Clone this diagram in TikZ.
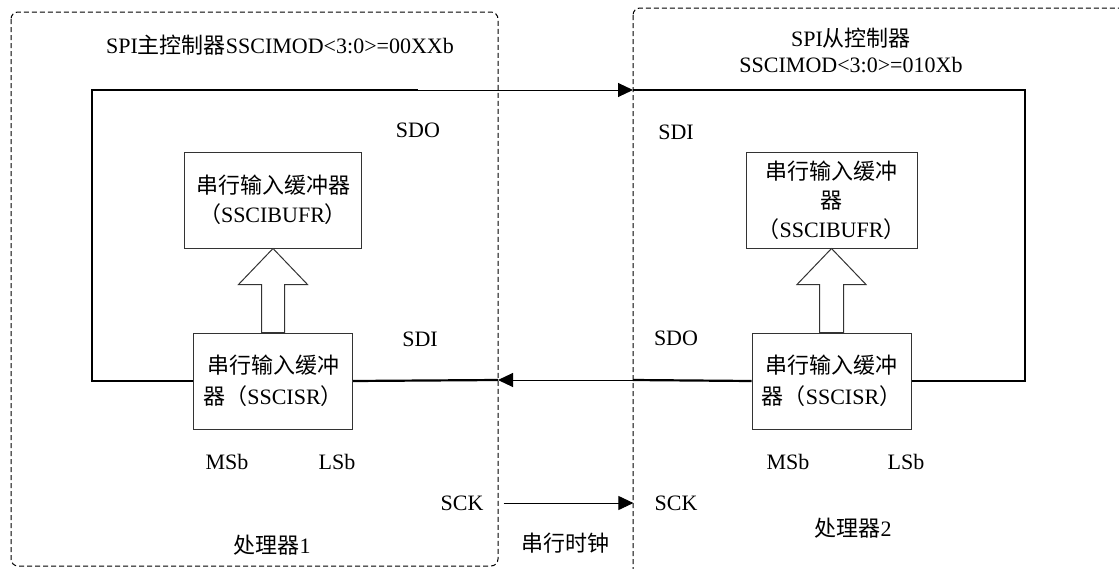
\documentclass[tikz,border=0pt]{standalone}
\usepackage{fontspec}
\setmainfont{Liberation Serif}
\newfontfamily\cjk{Noto Sans CJK SC}
\usetikzlibrary{arrows.meta, positioning}
\tikzset{
    buffer/.style={rectangle, draw=black!80, line width=1pt, minimum width=177pt, minimum height=96pt, align=center, inner sep=2pt, font=\fontsize{22}{29}\selectfont},
    shiftreg/.style={buffer, minimum width=159pt, font=\fontsize{22}{31}\selectfont},
    lbl/.style={inner sep=0pt, align=center, font=\fontsize{22}{26}\selectfont},
    frame/.style={dash pattern=on 5pt off 3pt, line width=1pt, rounded corners=7pt},
    bus/.style={line width=2.2pt},
    wire/.style={line width=1pt},
    arrow/.style={-{Triangle[length=15pt,width=14pt]}},
    hollow/.style={draw=black!80, line width=1pt, fill=white}
}
\begin{document}
\begin{tikzpicture}[x=1pt, y=-1pt]
    \useasboundingbox (0,0) rectangle (1119,568);
    % processor frames
    \draw [frame] (11,12) rectangle (498,566);
    \draw [frame] (633,8) rectangle (1150,580);

    % processor 1 (master)
    \node (titleA) [lbl] at (280,45) {SPI{\cjk 主控制器}SSCIMOD<3:0>=00XXb};
    \node (bufA) [buffer] at (273,200) {{\cjk 串行输入缓冲器}\\{\cjk （}SSCIBUFR{\cjk ）}};
    \node (srA) [shiftreg, below=84pt of bufA] {{\cjk 串行输入缓冲}\\{\cjk 器（}SSCISR{\cjk ）}};
    \node (sdoA) [lbl] at (418,130) {SDO};
    \node (sdiA) [lbl] at (420,339) {SDI};
    \node (msbA) [lbl] at (227,462) {MSb};
    \node (lsbA) [lbl] at (337,462) {LSb};
    \node (sckA) [lbl] at (462,503) {SCK};
    \node (procA) [lbl] at (272,545) {{\cjk 处理器}1};

    % processor 2 (slave)
    \node (titleB) [lbl] at (851,50) {SPI{\cjk 从控制器}\\SSCIMOD<3:0>=010Xb};
    \node (bufB) [buffer, minimum width=171pt] at (831.5,200) {{\cjk 串行输入缓冲}\\{\cjk 器}\\{\cjk （}SSCIBUFR{\cjk ）}};
    \node (srB) [shiftreg, below=84pt of bufB] {{\cjk 串行输入缓冲}\\{\cjk 器（}SSCISR{\cjk ）}};
    \node (sdiB) [lbl] at (676,132) {SDI};
    \node (sdoB) [lbl] at (676,338) {SDO};
    \node (msbB) [lbl] at (788,462) {MSb};
    \node (lsbB) [lbl] at (906,462) {LSb};
    \node (sckB) [lbl] at (676,503) {SCK};
    \node (procB) [lbl] at (853,528) {{\cjk 处理器}2};

    \node (clk) [lbl] at (565,543) {{\cjk 串行时钟}};

    % parallel transfer SSCISR -> SSCIBUFR
    \draw [hollow] ([xshift=-11.5pt]srA.north) -- ++(0,-48) -- ++(-23,0) -- (bufA.south)
        -- ++(34.5,36) -- ++(-23,0) -- ([xshift=11.5pt]srA.north) -- cycle;
    \draw [hollow] ([xshift=-12pt]srB.north) -- ++(0,-48) -- ++(-22.5,0) -- (bufB.south)
        -- ++(34.5,36) -- ++(-22.5,0) -- ([xshift=12pt]srB.north) -- cycle;

    % shift register loop
    \coordinate (tlA) at (92,90);
    \coordinate (splitT) at (418,90);
    \coordinate (inB) at (633,90);
    \coordinate (trB) at (1025,90);
    \coordinate (outB) at (633,380);
    \coordinate (inA) at (498,380);

    \draw [bus] (srA.west) -| (tlA) -- (splitT);
    \draw [wire, arrow] (splitT) -- (inB);
    \draw [bus] (inB) -- (trB) |- (srB.east);
    \draw [bus] (srB.west) -- (outB);
    \draw [wire, arrow] (outB) -- (inA);
    \draw [bus] (inA) -- (srA.east);

    % serial clock
    \draw [wire, arrow, shorten <=20pt, shorten >=21pt] (sckA.east) -- (sckB.west);
\end{tikzpicture}
\end{document}
